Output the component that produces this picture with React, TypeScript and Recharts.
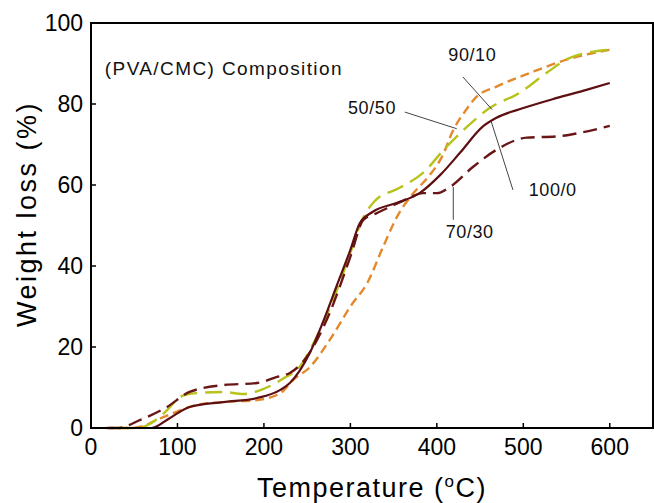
import React from 'react';
import {
  LineChart,
  Line,
  XAxis,
  YAxis,
  ReferenceLine,
  ReferenceDot,
  ReferenceArea
} from 'recharts';

// temperature (°C) / weight loss (%)
const temp100_0 = [50, 70, 90, 114, 153, 192, 219, 230, 253, 268, 284, 300, 311, 326, 354, 380, 404, 427, 453, 469, 500, 539, 573, 600];
const loss100_0 = [0, 0, 2.3, 5.2, 6.4, 7.4, 9.4, 11.1, 18.5, 26, 35, 44, 50.6, 53.4, 55.6, 58, 62.5, 68, 74.4, 76.6, 79, 81.5, 83.5, 85.2];

const temp70_30 = [20, 31, 57, 88, 114, 153, 192, 215, 230, 245, 262, 276, 300, 315, 330, 346, 365, 384, 400, 415, 442, 469, 504, 539, 566, 600];
const loss70_30 = [0, 0, 2, 5.2, 8.9, 10.6, 11.1, 12.6, 13.6, 16.3, 22, 28.4, 42.3, 51.4, 53, 54.6, 56.5, 58, 58, 59.5, 64.5, 68.7, 71.7, 72, 72.9, 74.6];

const temp50_50 = [30, 53, 75, 88, 103, 122, 153, 176, 199, 227, 238, 261, 280, 296, 315, 328, 357, 384, 411, 435, 461, 496, 527, 554, 600];
const loss50_50 = [0, 0, 2, 4.4, 7.7, 8.6, 8.9, 8.4, 9.6, 12.8, 14.3, 22.5, 31.6, 40.8, 52, 56, 59.3, 63, 69.4, 74.4, 79, 82.8, 87.7, 91.4, 93.4];

const temp90_10 = [17, 45, 62, 76, 99, 122, 153, 192, 219, 234, 253, 276, 300, 320, 338, 354, 373, 390, 406, 419, 432, 446, 469, 508, 551, 600];
const loss90_10 = [0, 0, 0.6, 2, 4, 5.7, 6.4, 6.9, 8.6, 11.9, 15, 21.7, 30, 36, 44.8, 52.2, 58, 62, 67, 73.6, 78, 81.8, 84.3, 87.7, 91, 93.4];

const xTicks = [0, 100, 200, 300, 400, 500, 600];
const yTicks = [0, 20, 40, 60, 80, 100];

const toRows = (t: number[], w: number[]) => t.map((temp, i) => ({ temp, loss: w[i] }));

const FONT = '"Liberation Sans", Arial, sans-serif';

// curve labels and their leader lines (data coords)
const callouts = [
  { text: '90/10', at: { x: 441, y: 92.2 }, from: { x: 430, y: 86.7 }, to: { x: 464, y: 78.6 } },
  { text: '50/50', at: { x: 325, y: 79 }, from: { x: 363, y: 78 }, to: { x: 423, y: 73.9 } },
  { text: '100/0', at: { x: 534, y: 58.8 }, from: { x: 488, y: 58.8 }, to: { x: 463, y: 75.6 } },
  { text: '70/30', at: { x: 438, y: 48.4 }, from: { x: 419, y: 51.4 }, to: { x: 419, y: 59.5 } }
];

const XTitle = () => (
  <text x={372} y={497} textAnchor="middle" fontFamily={FONT} fontSize={27} letterSpacing={1.5} fill="#000">
    Temperature (<tspan fontSize={17} dy={-10}>o</tspan><tspan dy={10}>C)</tspan>
  </text>
);

const YTitle = () => (
  <text x={0} y={0} transform="translate(36,214) rotate(-90)" textAnchor="middle" fontFamily={FONT} fontSize={27} letterSpacing={2.5} fill="#000">
    Weight loss (%)
  </text>
);

export default function App() {
  return (
    <div style={{ position: 'absolute', left: 0, top: 0, background: '#fff' }}>
      <LineChart width={654} height={503} margin={{ top: 23, right: 1, bottom: 0, left: 0 }}>
        <XAxis
          dataKey="temp"
          type="number"
          domain={[0, 650]}
          ticks={xTicks}
          allowDuplicatedCategory={false}
          tickSize={-5}
          tickMargin={16}
          height={75}
          stroke="#000"
          axisLine={{ stroke: '#000', strokeWidth: 2 }}
          tickLine={{ stroke: '#000', strokeWidth: 1.5 }}
          tick={{ fill: '#000', fontSize: 23, fontFamily: FONT }}
          label={{ content: () => <XTitle /> }}
        />
        <YAxis
          type="number"
          domain={[0, 100]}
          ticks={yTicks}
          tickSize={-5}
          tickMargin={13}
          width={91}
          axisLine={{ stroke: '#000', strokeWidth: 2 }}
          tickLine={{ stroke: '#000', strokeWidth: 1.5 }}
          tick={{ fill: '#000', fontSize: 23, fontFamily: FONT }}
          label={{ content: () => <YTitle /> }}
        />
        <ReferenceArea x1={0} x2={650} y1={0} y2={100} fill="none" stroke="#000" strokeWidth={2} />

        <Line data={toRows(temp90_10, loss90_10)} dataKey="loss" type="monotone" stroke="#e3892b" strokeWidth={2.4} strokeDasharray="9 5" dot={false} isAnimationActive={false} />
        <Line data={toRows(temp50_50, loss50_50)} dataKey="loss" type="monotone" stroke="#b7c31b" strokeWidth={2.4} strokeDasharray="17 8" dot={false} isAnimationActive={false} />
        <Line data={toRows(temp70_30, loss70_30)} dataKey="loss" type="monotone" stroke="#6a1616" strokeWidth={2.4} strokeDasharray="14 7" dot={false} isAnimationActive={false} />
        <Line data={toRows(temp100_0, loss100_0)} dataKey="loss" type="monotone" stroke="#5e0f12" strokeWidth={2.2} dot={false} isAnimationActive={false} />

        {callouts.map(c => (
          <ReferenceLine key={c.text + '-line'} segment={[c.from, c.to]} stroke="#444" strokeWidth={1} />
        ))}
        {callouts.map(c => (
          <ReferenceDot
            key={c.text}
            x={c.at.x}
            y={c.at.y}
            r={0}
            fill="none"
            stroke="none"
            label={{
              content: (p: any) => (
                <text x={p.viewBox.x} y={p.viewBox.y} dy="0.35em" textAnchor="middle" fontFamily={FONT} fontSize={18} letterSpacing={0.6} fill="#111">
                  {c.text}
                </text>
              )
            }}
          />
        ))}
        <ReferenceDot
          x={16}
          y={88.7}
          r={0}
          fill="none"
          stroke="none"
          label={{
            content: (p: any) => (
              <text x={p.viewBox.x} y={p.viewBox.y} dy="0.35em" textAnchor="start" fontFamily={FONT} fontSize={19} letterSpacing={1.4} fill="#111">
                (PVA/CMC) Composition
              </text>
            )
          }}
        />
      </LineChart>
    </div>
  );
}
